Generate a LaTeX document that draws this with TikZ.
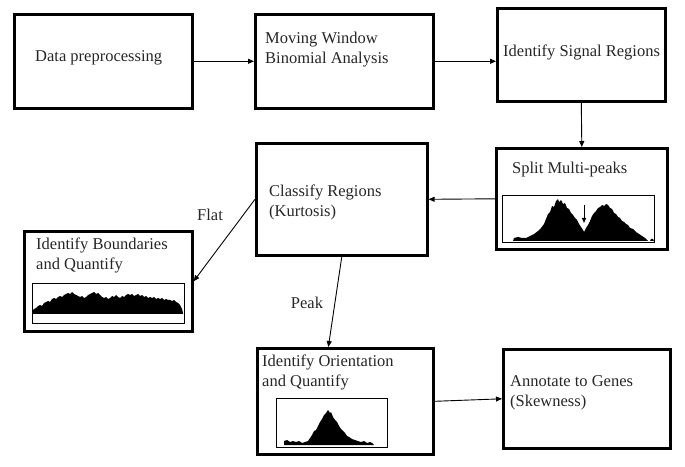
\documentclass[tikz,border=0pt]{standalone}
\usepackage{fontspec}
\setmainfont{Liberation Serif}
\usetikzlibrary{arrows.meta,calc}
\begin{document}
\begin{tikzpicture}[x=1bp,y=-1bp,
  box/.style={draw, line width=2.6bp, rectangle, inner sep=0, anchor=north west},
  plotbox/.style={draw, line width=0.8bp, rectangle, inner sep=0, anchor=north west},
  lbl/.style={anchor=west, inner sep=0, align=left, font=\fontsize{16.5bp}{20bp}\selectfont, text=black!85},
  arr/.style={line width=0.9bp, -{Triangle[length=6bp,width=5bp]}},
  hist/.style={fill=black}
]
\useasboundingbox (0,0) rectangle (685,467);

% boxes
\node[box, minimum width=178bp, minimum height=94bp] (b1) at (13,13) {};
\node[box, minimum width=178bp, minimum height=94bp] (b2) at (254,13) {};
\node[box, minimum width=168bp, minimum height=93bp] (b3) at (496,7) {};
\node[box, minimum width=171bp, minimum height=101bp] (b4) at (495,147) {};
\node[box, minimum width=171bp, minimum height=112bp] (b5) at (255,142) {};
\node[box, minimum width=168bp, minimum height=100bp] (b6) at (23,230) {};
\node[box, minimum width=176bp, minimum height=106bp] (b7) at (256,347) {};
\node[box, minimum width=167bp, minimum height=99bp] (b8) at (502,348) {};

% texts
\node[lbl] (t1) at (35,58) {Data preprocessing};
\node[lbl] (t2) at (265,50) {Moving Window\\Binomial Analysis};
\node[lbl] (t3) at (503,52) {Identify Signal Regions};
\node[lbl] (t4) at (512,170) {Split Multi-peaks};
\node[lbl] (t5) at (269,202) {Classify Regions\\(Kurtosis)};
\node[lbl] (t6) at (36,255) {Identify Boundaries\\and Quantify};
\node[lbl] (t7) at (262,372) {Identify Orientation\\and Quantify};
\node[lbl] (t8) at (510,393) {Annotate to Genes\\(Skewness)};
\node[lbl, anchor=center] (flat) at (210,215) {Flat};
\node[lbl, anchor=center] (peak) at (307,303) {Peak};

% plot boxes
\node[plotbox, minimum width=152bp, minimum height=47bp] (p4) at (502,195) {};
\node[plotbox, minimum width=152bp, minimum height=40bp] (p6) at (32,283) {};
\node[plotbox, minimum width=111bp, minimum height=49bp] (p7) at (276,398) {};

% histograms
\fill[hist] (513,241) -- (514,238) -- (518,237) -- (522,238) -- (526,238) -- (530,236) -- (534,234) -- (538,231) -- (541,228) -- (544,224) -- (546,219) -- (548,214) -- (550,212) -- (552,206) -- (554,207) -- (556,201) -- (558,199) -- (559,202) -- (561,200) -- (563,204) -- (565,203) -- (567,208) -- (569,209) -- (571,213) -- (573,215) -- (575,218) -- (577,220) -- (579,224) -- (581,227) -- (583,230) -- (584,232) -- (586,228) -- (588,225) -- (590,221) -- (592,216) -- (594,213) -- (596,211) -- (598,208) -- (600,207) -- (602,205) -- (604,206) -- (606,204) -- (608,205) -- (610,208) -- (612,209) -- (614,213) -- (616,214) -- (618,217) -- (620,218) -- (622,221) -- (624,222) -- (626,224) -- (628,225) -- (630,228) -- (633,229) -- (636,232) -- (639,234) -- (642,236) -- (645,238) -- (647,240) -- (648,241) -- cycle;
\fill[hist] (650,241) -- (651,239) -- (653,239) -- (654,241) -- cycle;

\fill[hist] (32,314) -- (32,311) -- (34,309) -- (36,308) -- (38,306) -- (40,305) -- (42,306) -- (44,303) -- (46,302) -- (48,301) -- (50,302) -- (52,299) -- (54,298) -- (56,299) -- (58,297) -- (60,296) -- (62,297) -- (64,295) -- (66,294) -- (68,293) -- (70,294) -- (72,292) -- (74,294) -- (76,295) -- (78,296) -- (80,297) -- (82,296) -- (84,298) -- (86,297) -- (88,295) -- (90,294) -- (92,293) -- (94,292) -- (96,294) -- (98,293) -- (100,295) -- (102,297) -- (104,298) -- (106,297) -- (108,299) -- (110,298) -- (112,296) -- (114,297) -- (116,295) -- (118,297) -- (120,298) -- (122,296) -- (124,297) -- (126,295) -- (128,294) -- (130,295) -- (132,294) -- (134,296) -- (136,295) -- (138,294) -- (140,296) -- (142,295) -- (144,297) -- (146,296) -- (148,298) -- (150,297) -- (152,298) -- (154,297) -- (156,299) -- (158,298) -- (160,299) -- (162,298) -- (164,300) -- (166,299) -- (168,300) -- (170,300) -- (172,301) -- (174,300) -- (176,302) -- (178,303) -- (180,305) -- (182,309) -- (183,313) -- (183,314) -- cycle;

\fill[hist] (284,445) -- (284,441) -- (287,440) -- (290,442) -- (293,441) -- (296,442) -- (299,441) -- (302,443) -- (305,442) -- (308,441) -- (310,438) -- (312,435) -- (314,431) -- (316,430) -- (318,426) -- (320,422) -- (322,419) -- (324,415) -- (326,413) -- (328,410) -- (330,413) -- (331,412) -- (333,417) -- (335,420) -- (337,422) -- (339,426) -- (341,429) -- (343,431) -- (345,433) -- (347,436) -- (349,437) -- (352,439) -- (355,440) -- (358,441) -- (361,442) -- (364,441) -- (367,443) -- (370,442) -- (372,443) -- (374,445) -- cycle;

% valley marker arrow
\coordinate (va) at (584,205);
\coordinate (vb) at (584,223);
\draw[line width=1bp, -{Triangle[length=5bp,width=4bp]}] (va) -- (vb);

% connectors
\draw[arr] (b1.east) -- (b2.west);
\draw[arr] (b2.east) -- (b2.east -| b3.west);
\draw[arr] (b3.south) -- (b4.north);
\draw[arr] (b4.west) -- (b5.east);
\draw[arr] (b5.west) -- (b6.east);
\coordinate (b7in) at ($(b7.north west)!0.405!(b7.north east)$);
\draw[arr] (b5.south) -- (b7in);
\draw[arr] (b7.east) -- (b8.west);
\end{tikzpicture}
\end{document}
